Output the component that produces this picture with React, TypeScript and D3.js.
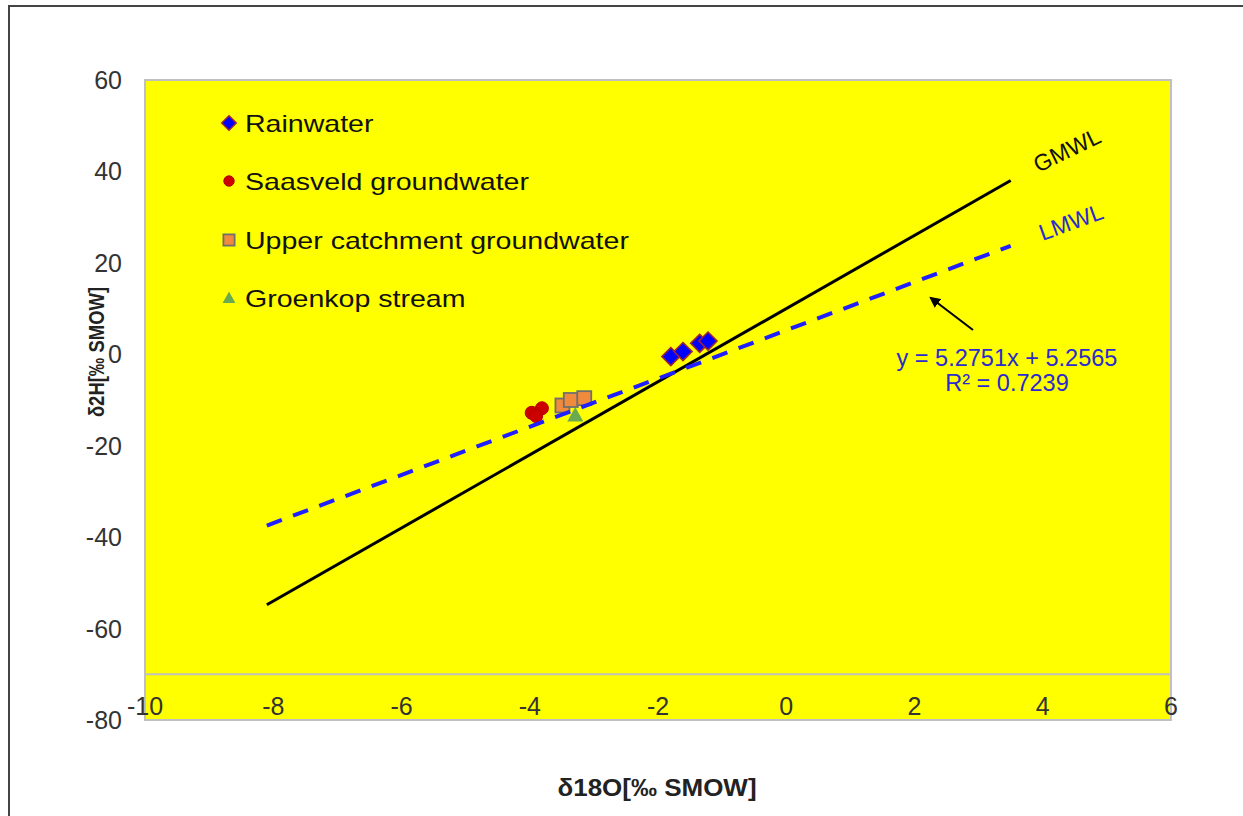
import React from "react";
import * as d3 from "d3";

// Isotope samples: δ18O (x) and δ2H (y), ‰ SMOW
const rainwaterX = [-1.8, -1.61, -1.35, -1.22];
const rainwaterY = [-0.5, 0.6, 2.4, 2.9];
const saasveldX = [-3.97, -3.81, -3.9];
const saasveldY = [-12.8, -11.8, -13.5];
const upperX = [-3.49, -3.36, -3.15];
const upperY = [-11.2, -10.0, -9.6];
const groenkopX = [-3.29];
const groenkopY = [-13.3];

// Meteoric water lines
const lineRange = [-8.1, 3.5];
const gmwlSlope = 8;
const gmwlIntercept = 10;
const lmwlSlope = 5.2751;
const lmwlIntercept = 5.2565;

const xTicks = [-10, -8, -6, -4, -2, 0, 2, 4, 6];
const yTicks = [60, 40, 20, 0, -20, -40, -60, -80];

const legendItems = [
  "Rainwater",
  "Saasveld groundwater",
  "Upper catchment groundwater",
  "Groenkop stream",
];

const W = 1243;
const H = 816;
const plot = { left: 145, right: 1171, top: 80, bottom: 720 };
const FONT = "'Liberation Sans', Arial, sans-serif";

export default function App() {
  const x = d3.scaleLinear().domain([-10, 6]).range([plot.left, plot.right]);
  const y = d3.scaleLinear().domain([-80, 60]).range([plot.bottom, plot.top]);

  const gmwl = d3
    .line<number>()
    .x((d) => x(d))
    .y((d) => y(gmwlSlope * d + gmwlIntercept))(lineRange);
  const lmwl = d3
    .line<number>()
    .x((d) => x(d))
    .y((d) => y(lmwlSlope * d + lmwlIntercept))(lineRange);

  const diamond = (cx: number, cy: number, r: number) =>
    `M${cx},${cy - r}L${cx + r},${cy}L${cx},${cy + r}L${cx - r},${cy}Z`;
  const triangle = (cx: number, cy: number, r: number) =>
    `M${cx},${cy - r}L${cx + r},${cy + r * 0.8}L${cx - r},${cy + r * 0.8}Z`;

  const zip = (a: number[], b: number[]) => a.map((v, i) => [v, b[i]] as [number, number]);

  const legendY = [123, 181, 240, 298];
  const legendMarkerX = 229;

  const markerFor = (i: number, cx: number, cy: number, small: boolean) => {
    const s = small ? 0.8 : 1;
    if (i === 0)
      return <path d={diamond(cx, cy, 9 * s)} fill="#0000ff" stroke="#9b2335" strokeWidth={1.6} />;
    if (i === 1) return <circle cx={cx} cy={cy} r={6.5 * s} fill="#cc0000" stroke="#b00000" strokeWidth={1} />;
    if (i === 2)
      return (
        <rect
          x={cx - 7 * s}
          y={cy - 7 * s}
          width={14 * s}
          height={14 * s}
          fill="#f08a3c"
          stroke="#6f6f6f"
          strokeWidth={1.8}
        />
      );
    return <path d={triangle(cx, cy, 8 * s)} fill="#6aaa4f" />;
  };

  return (
    <svg
      width={W}
      height={H}
      style={{ position: "absolute", left: 0, top: 0, background: "#fff" }}
      fontFamily={FONT}
    >
      {/* outer chart frame */}
      <rect x={9} y={6} width={W + 50} height={H + 50} fill="none" stroke="#444" strokeWidth={2} />

      {/* plot area */}
      <rect
        x={plot.left}
        y={plot.top}
        width={plot.right - plot.left}
        height={plot.bottom - plot.top}
        fill="#ffff00"
        stroke="#c0c0c0"
        strokeWidth={2}
      />
      {/* horizontal axis at y = -70 */}
      <line x1={plot.left} x2={plot.right} y1={y(-70)} y2={y(-70)} stroke="#c0c0c0" strokeWidth={2} />

      {/* y tick labels */}
      {yTicks.map((t) => (
        <text key={t} x={122} y={y(t)} dy="0.36em" textAnchor="end" fontSize={25} fill="#333">
          {t}
        </text>
      ))}
      {/* x tick labels */}
      {xTicks.map((t) => (
        <text key={t} x={x(t)} y={715} textAnchor="middle" fontSize={25} fill="#333">
          {t}
        </text>
      ))}

      {/* axis titles */}
      <text
        transform="translate(657,796) scale(1.13,1)"
        textAnchor="middle"
        fontSize={23}
        fontWeight="bold"
        fill="#222"
      >
        δ18O[‰ SMOW]
      </text>
      <text
        transform="translate(104,352) rotate(-90) scale(0.84,1)"
        textAnchor="middle"
        fontSize={22}
        fontWeight="bold"
        fill="#222"
      >
        δ2H[‰ SMOW]
      </text>

      {/* sample markers */}
      {zip(rainwaterX, rainwaterY).map(([a, b], i) => (
        <g key={`r${i}`}>{markerFor(0, x(a), y(b), false)}</g>
      ))}
      {zip(saasveldX, saasveldY).map(([a, b], i) => (
        <g key={`s${i}`}>{markerFor(1, x(a), y(b), false)}</g>
      ))}
      {zip(groenkopX, groenkopY).map(([a, b], i) => (
        <g key={`g${i}`}>{markerFor(3, x(a), y(b), false)}</g>
      ))}
      {zip(upperX, upperY).map(([a, b], i) => (
        <g key={`u${i}`}>{markerFor(2, x(a), y(b), false)}</g>
      ))}

      {/* GMWL and LMWL */}
      <path d={gmwl ?? ""} fill="none" stroke="#000" strokeWidth={3} />
      <path d={lmwl ?? ""} fill="none" stroke="#1f1fff" strokeWidth={4} strokeDasharray="16 12" />

      <text
        transform="translate(1067,150) rotate(-26)"
        textAnchor="middle"
        dy="0.35em"
        fontSize={23}
        fill="#111"
      >
        GMWL
      </text>
      <text
        transform="translate(1071,222) rotate(-20)"
        textAnchor="middle"
        dy="0.35em"
        fontSize={23}
        fill="#2a2ad0"
      >
        LMWL
      </text>

      {/* regression arrow */}
      <defs>
        <marker id="arrowHead" viewBox="0 0 10 10" refX={8} refY={5} markerWidth={5} markerHeight={5} orient="auto">
          <path d="M0,0L10,5L0,10Z" fill="#000" />
        </marker>
      </defs>
      <line x1={973} y1={330} x2={931} y2={298} stroke="#000" strokeWidth={2.2} markerEnd="url(#arrowHead)" />

      <text x={1007} y={366} textAnchor="middle" fontSize={23.5} fill="#2a2ad0">
        y = 5.2751x + 5.2565
      </text>
      <text x={1007} y={391} textAnchor="middle" fontSize={23.5} fill="#2a2ad0">
        R² = 0.7239
      </text>

      {/* legend */}
      {legendItems.map((name, i) => (
        <g key={name}>
          {markerFor(i, legendMarkerX, legendY[i], true)}
          <text
            transform={`translate(245,${legendY[i]}) scale(1.19,1)`}
            dy="0.36em"
            fontSize={24}
            fill="#111"
          >
            {name}
          </text>
        </g>
      ))}
    </svg>
  );
}
